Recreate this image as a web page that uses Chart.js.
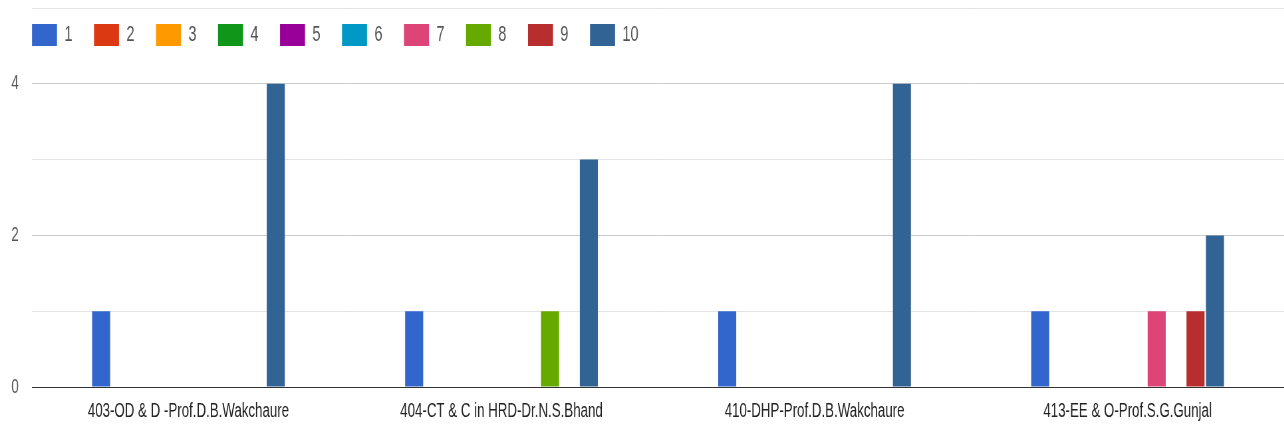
<!DOCTYPE html>
<html>
<head>
<meta charset="utf-8">
<script src="https://cdn.jsdelivr.net/npm/chart.js@4/dist/chart.umd.min.js"></script>
<style>
html,body{margin:0;padding:0;background:#fff;overflow:hidden;width:1284px;height:428px;}
#wrap{width:1931px;height:428px;position:absolute;left:0;top:0;transform-origin:0 0;transform:scaleX(0.665);}
</style>
</head>
<body>
<div id="wrap"><canvas id="c"></canvas></div>
<script>
const categories = [
  "403-OD & D -Prof.D.B.Wakchaure",
  "404-CT & C in HRD-Dr.N.S.Bhand",
  "410-DHP-Prof.D.B.Wakchaure",
  "413-EE & O-Prof.S.G.Gunjal"
];
const seriesNames = ["1","2","3","4","5","6","7","8","9","10"];
const s1  = [1, 1, 1, 1];
const s2  = [0, 0, 0, 0];
const s3  = [0, 0, 0, 0];
const s4  = [0, 0, 0, 0];
const s5  = [0, 0, 0, 0];
const s6  = [0, 0, 0, 0];
const s7  = [0, 0, 0, 1];
const s8  = [0, 1, 0, 0];
const s9  = [0, 0, 0, 1];
const s10 = [4, 3, 4, 2];
const yTicks = [0, 2, 4];

const seriesValues = [s1,s2,s3,s4,s5,s6,s7,s8,s9,s10];
const colors = ["#3366cc","#dc3912","#ff9900","#109618","#990099","#0099c6","#dd4477","#66aa00","#b82e2e","#316395"];

const SX = 0.665; // horizontal squeeze applied to the whole canvas
const FONT = "'Liberation Sans',Arial,sans-serif";

const legendOverlay = {
  id: 'legendOverlay',
  beforeLayout(chart) {
    const lg = chart.legend;
    if (lg && !lg._zeroPatched) {
      const origFit = lg.fit.bind(lg);
      lg.fit = function () { origFit(); this.height = 0; };
      lg._zeroPatched = true;
    }
  },
  beforeDraw(chart) {
    const lg = chart.legend;
    if (!lg) return;
    const pad = lg.options.labels.padding;
    const newLeft = 32 / SX - pad;
    const w = lg.right - lg.left;
    lg.left = newLeft; lg.right = newLeft + w;
    lg.top = 24 - pad;
    lg.height = 100;
    lg.bottom = lg.top + 100;
  }
};

new Chart(document.getElementById('c'), {
  type: 'bar',
  data: {
    labels: categories,
    datasets: seriesNames.map((n, i) => ({
      label: n,
      data: seriesValues[i],
      backgroundColor: colors[i],
      borderWidth: 0,
      categoryPercentage: 0.62,
      barPercentage: 0.93
    }))
  },
  options: {
    responsive: true,
    maintainAspectRatio: false,
    animation: false,
    layout: { padding: { top: 8, right: 0, left: 0, bottom: 5 } },
    plugins: {
      legend: {
        position: 'top',
        align: 'start',
        labels: {
          boxWidth: 37.6,
          boxHeight: 22,
          padding: 32.4,
          color: '#555',
          font: { family: FONT, size: 22 }
        }
      },
      tooltip: { enabled: false }
    },
    scales: {
      x: {
        afterFit(scale) { scale.height = 36; },
        grid: { display: false, drawTicks: false },
        border: { display: true, color: '#333', width: 1 },
        ticks: {
          color: '#222',
          padding: 12,
          maxRotation: 0,
          font: { family: FONT, size: 20 }
        }
      },
      y: {
        min: 0,
        max: 5,
        afterFit(scale) { scale.width = 48; scale.paddingTop = 0; scale.paddingBottom = 0; },
        border: { display: false },
        grid: {
          drawTicks: false,
          color: (ctx) => (ctx.tick && ctx.tick.value % 2 === 0) ? '#cccccc' : '#e4e4e4'
        },
        ticks: {
          stepSize: 1,
          padding: 20,
          color: '#555',
          font: { family: FONT, size: 20 },
          callback: (v) => yTicks.includes(v) ? String(v) : ''
        }
      }
    }
  },
  plugins: [legendOverlay]
});
</script>
</body>
</html>
